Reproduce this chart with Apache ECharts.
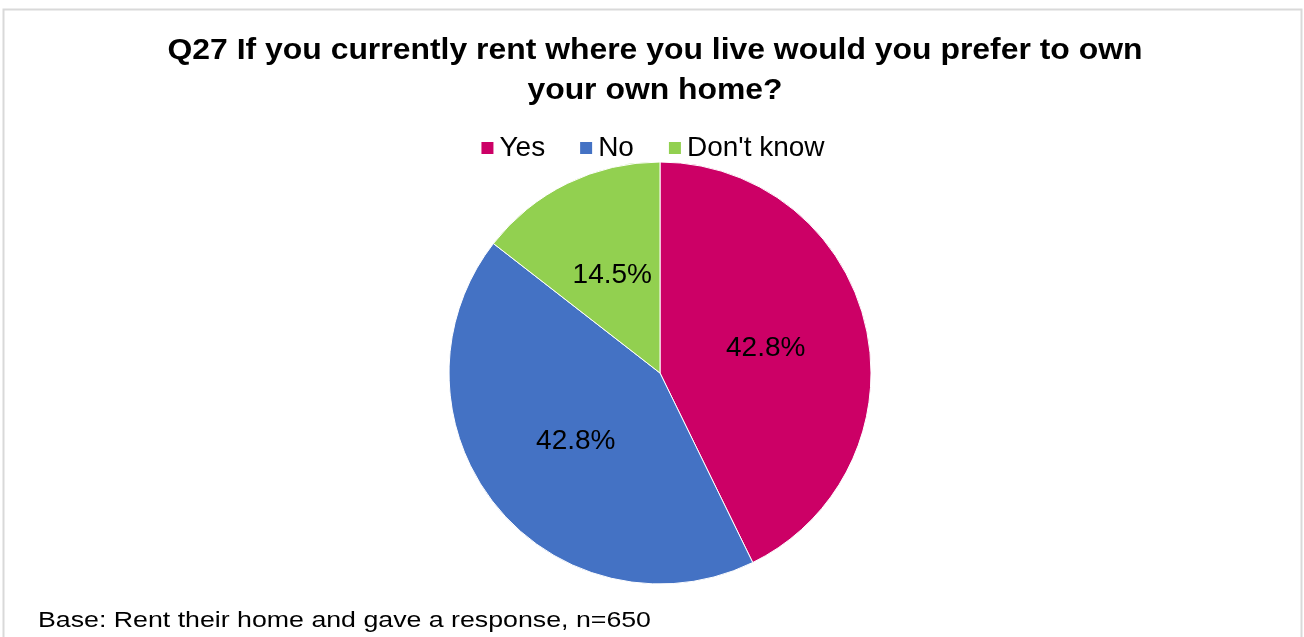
<!DOCTYPE html>
<html><head><meta charset="utf-8">
<script src="https://cdn.jsdelivr.net/npm/echarts@6/dist/echarts.min.js"></script>
<style>html,body{margin:0;padding:0;background:#fff}#c{width:1304px;height:637px}</style>
</head><body><div id="c"></div>
<script>
const categories = ["Yes", "No", "Don't know"];
const values = [42.8, 42.8, 14.5];
const colors = ["#CC0066", "#4472C4", "#92D050"];
const titleText = "Q27 If you currently rent where you live would you prefer to own\nyour own home?";
const baseText = "Base: Rent their home and gave a response, n=650";

const chart = echarts.init(document.getElementById('c'));
chart.setOption({
  animation: false,
  backgroundColor: '#fff',
  legend: {
    data: categories, top: 129, left: 'center', itemWidth: 14, itemHeight: 14, itemGap: 33,
    icon: 'rect',
    textStyle: { fontFamily: 'Liberation Sans, Arial', fontSize: 28, color: '#000' }
  },
  graphic: [
    { type: 'rect', shape: { x: 3.5, y: 9.5, width: 1298, height: 640 }, style: { fill: 'none', stroke: '#d9d9d9', lineWidth: 2 }, z: -1 },
    { type: 'text', x: 655, y: 31, scaleX: 1.1,
      style: { text: titleText, align: 'center', verticalAlign: 'top', lineHeight: 40,
               font: 'bold 29px "Liberation Sans", Arial', fill: '#000' } },
    { type: 'text', x: 38, y: 621, scaleX: 1.215,
      style: { text: baseText, align: 'left', verticalAlign: 'middle', font: '22px "Liberation Sans", Arial', fill: '#000' } }
  ],
  series: [{
    type: 'pie', center: [660, 373], radius: [0, 211], startAngle: 90, clockwise: true,
    data: categories.map((c, i) => ({ name: c, value: values[i], itemStyle: { color: colors[i] } })),
    itemStyle: { borderColor: '#fff', borderWidth: 1 },
    label: { show: true, position: 'inside', formatter: p => p.value.toFixed(1) + '%', fontFamily: 'Liberation Sans, Arial', fontSize: 28, color: '#000' },
    labelLine: { show: false }
  }]
});
</script></body></html>
